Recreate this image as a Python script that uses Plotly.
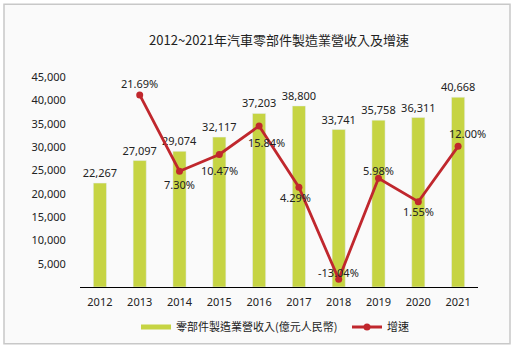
import plotly.graph_objects as go

years = ["2012", "2013", "2014", "2015", "2016", "2017", "2018", "2019", "2020", "2021"]
revenue = [22267, 27097, 29074, 32117, 37203, 38800, 33741, 35758, 36311, 40668]
growth = [None, 21.69, 7.30, 10.47, 15.84, 4.29, -13.04, 5.98, 1.55, 12.00]
ytick_vals = [5000, 10000, 15000, 20000, 25000, 30000, 35000, 40000, 45000]

bar_name = "零部件製造業營收入(億元人民幣)"
line_name = "增速"
title = "2012~2021年汽車零部件製造業營收入及增速"

BAR_C = "#c6d443"
LINE_C = "#c0272d"
FONT = "Noto Sans, Noto Sans CJK TC, sans-serif"
CJK = "Noto Sans CJK TC, sans-serif"

# label offsets (style) for growth labels
lab_dy = [0, 11, -13, -16, -17, -10, 7, 8, -10, 13]
lab_dx = [0, 0, 0, 0, 7, -3, 0, 0, 0, 9]

fig = go.Figure()
fig.add_trace(go.Bar(
    x=years, y=revenue, marker_color=BAR_C, width=0.33,
    text=[f"{v:,}" for v in revenue], textposition="outside", constraintext="none",
    textfont=dict(size=11, color="#222", family=FONT),
    cliponaxis=False, showlegend=False, yaxis="y",
))
# legend proxy for bars
fig.add_trace(go.Scatter(
    x=[years[0]], y=[None], mode="lines", name=bar_name,
    line=dict(color=BAR_C, width=5), yaxis="y", legend="legend",
))
fig.add_trace(go.Scatter(
    x=years, y=growth, mode="lines+markers", name=line_name,
    line=dict(color=LINE_C, width=2.8), marker=dict(size=7, color=LINE_C),
    yaxis="y2", cliponaxis=False, legend="legend2",
))
for i, g in enumerate(growth):
    if g is None:
        continue
    fig.add_annotation(
        x=i, y=g, xref="x", yref="y2", text=f"{g:.2f}%", showarrow=False,
        xshift=lab_dx[i], yshift=lab_dy[i],
        font=dict(size=11, color="#222", family=FONT),
    )

# frame
L, R, T, B = 80, 478, 77, 288
W, H = 515, 352
def px(xp):
    return (xp - L) / (R - L)
def py(yp):
    return (B - yp) / (B - T)
fig.add_shape(type="rect", xref="paper", yref="paper",
              x0=px(4), x1=px(510), y0=py(345), y1=py(4),
              line=dict(color="#c8c8c8", width=1.5), fillcolor="#fafafa", layer="below")

fig.update_layout(
    width=W, height=H,
    margin=dict(l=L, r=W - R, t=T, b=H - B),
    paper_bgcolor="white", plot_bgcolor="rgba(0,0,0,0)",
    title=dict(text=title, xref="container", x=279 / W, xanchor="center",
               yref="container", y=1 - 40 / H, yanchor="middle",
               font=dict(size=13, color="#222", family=CJK)),
    xaxis=dict(type="category", categoryarray=years, categoryorder="array",
               range=[-0.5, len(years) - 0.5], autorange=False,
               showline=True, linecolor="#000", linewidth=1,
               showgrid=False, ticks="outside", ticklen=5, tickcolor="rgba(0,0,0,0)",
               tickfont=dict(size=11, color="#222", family=FONT), fixedrange=True),
    yaxis=dict(range=[0, 45000], autorange=False, tickvals=ytick_vals, tickformat=",d",
               showgrid=False, zeroline=False, showline=False, ticks="outside", ticklen=11,
               tickcolor="rgba(0,0,0,0)",
               tickfont=dict(size=11, color="#222", family=FONT)),
    yaxis2=dict(range=[-14.52, 25.07], autorange=False, overlaying="y", side="right",
                visible=False),
    legend=dict(orientation="h", x=px(136), xanchor="left", y=py(327), yanchor="middle",
                font=dict(size=11, color="#222", family=CJK),
                bgcolor="rgba(0,0,0,0)"),
    legend2=dict(orientation="h", x=px(347), xanchor="left", y=py(327), yanchor="middle",
                 font=dict(size=11, color="#222", family=CJK),
                 bgcolor="rgba(0,0,0,0)"),
    bargap=0.6,
)

fig.write_html("out.html")
